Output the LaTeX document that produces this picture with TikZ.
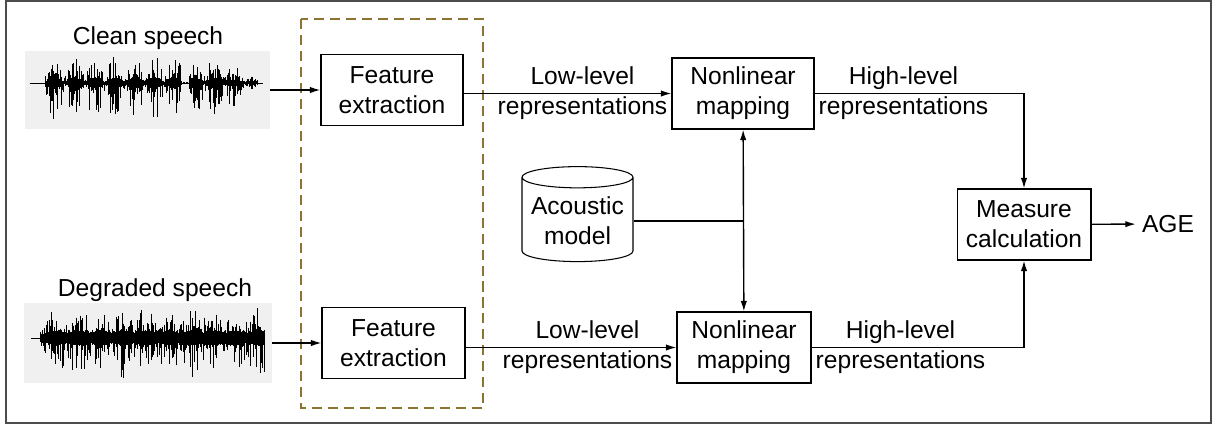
\documentclass[tikz,border=0pt]{standalone}
\usepackage{fontspec}
\setmainfont{Liberation Sans}
\usetikzlibrary{arrows.meta,shapes.geometric}
\definecolor{dashbrown}{RGB}{140,115,50}
\definecolor{wavebg}{RGB}{240,240,240}
\begin{document}
\begin{tikzpicture}[x=0.02cm,y=-0.02cm,auto,
    font=\fontsize{14}{17}\selectfont,
    block/.style={draw,line width=0.6pt,align=center,minimum height=1.42cm,inner sep=1pt},
    label/.style={align=center,inner sep=2pt},
    wave/.style={fill=wavebg,minimum width=4.9cm,minimum height=1.56cm,inner sep=0pt},
    arr/.style={line width=0.8pt,-{Latex[length=6pt,width=3.6pt]}},
    conn/.style={line width=0.8pt}]
    \useasboundingbox (0,0) rectangle (1216,426);
    \draw [black!70,line width=1pt] (6,1) rectangle (1211,423);
    \draw [dashbrown,line width=1pt,dash pattern=on 5.7pt off 3.4pt] (301,19) rectangle (483,408);
    % speech signals
    \node (ct) at (148,38) {Clean speech};
    \node [wave] (cw) at (147.5,90) {};
    \node (dt) at (155,290) {Degraded speech};
    \node [wave,minimum width=4.96cm,minimum height=1.6cm] (dw) at (148,343) {};
    \draw [line width=0.4pt] (30,83) -- (263,83);
    \draw [line width=0.4pt] (31,338) -- (265,338);
    \pgfmathsetseed{23}
    \foreach \x in {45,45.8,...,258}{
      \pgfmathsetmacro\env{(0.15+0.85*abs(sin(9*(\x-45))))*min(1,(262-\x)/40)*(\x>181 && \x<189 ? 0.1 : 1)}
      \pgfmathsetmacro\up{\env*(5+23*rnd^2)}
      \pgfmathsetmacro\dn{\env*(5+33*rnd^2.5)}
      \draw [line width=0.45pt] (\x,{83-\up}) -- (\x,{83+\dn});
    }
    \foreach \x in {40,40.8,...,265}{
      \pgfmathsetmacro\env{(0.45+0.55*abs(sin(8*\x)))*min(1,(\x-36)/12)}
      \pgfmathsetmacro\up{3+\env*(4+24*rnd^3)}
      \pgfmathsetmacro\dn{3+\env*(4+34*rnd^3.5)}
      \draw [line width=0.45pt] (\x,{338-\up}) -- (\x,{338+\dn});
    }
    % blocks
    \node [block,minimum width=2.84cm] (fa) at (392,90) {Feature\\extraction};
    \node [block,minimum width=2.86cm] (fb) at (393.5,343) {Feature\\extraction};
    \node [block,minimum width=2.84cm] (na) at (743,93.5) {Nonlinear\\mapping};
    \node [block,minimum width=2.68cm] (nb) at (744,347.5) {Nonlinear\\mapping};
    \node [block,minimum width=2.68cm] (m) at (1024,224.5) {Measure\\calculation};
    \node [draw,line width=0.6pt,cylinder,shape border rotate=90,aspect=0.22,
           minimum width=2.22cm,minimum height=1.9cm,align=center,inner sep=1pt] (am) at (577.5,221) {Acoustic\\model};
    \node (age) at (1168,224) {AGE};
    % connections
    \draw [arr] (cw) -- (fa);
    \draw [arr] (dw) -- (fb);
    \draw [arr] (fa.east |- na) -- node [label,pos=1,anchor=east] {Low-level\\representations} (na);
    \draw [arr] (fb.east |- nb) -- node [label,pos=1,anchor=east] {Low-level\\representations} (nb);
    \draw [arr] (na.east) -- node [label,pos=0,anchor=west] {High-level\\representations} (na.east -| m) -- (m);
    \draw [arr] (nb.east) -- node [label,pos=0,anchor=west] {High-level\\representations} (nb.east -| m) -- (m);
    \draw [arr,{Latex[length=6pt,width=3.6pt]}-{Latex[length=6pt,width=3.6pt]}] (na) -- (nb);
    \coordinate (j) at (am.east -| na);
    \draw [conn] (am.east) -- (j);
    \draw [arr] (m) -- (age);
  \end{tikzpicture}
\end{document}
